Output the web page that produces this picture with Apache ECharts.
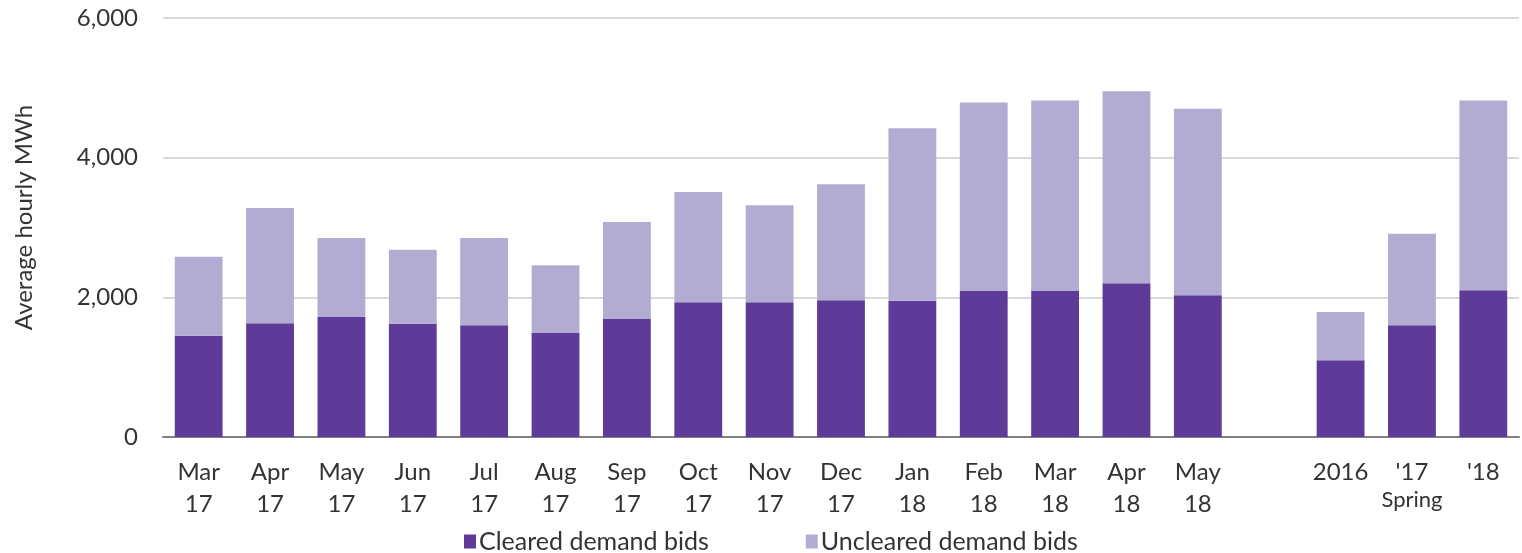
<!DOCTYPE html>
<html>
<head>
<meta charset="utf-8">
<script src="https://cdn.jsdelivr.net/npm/echarts@6/dist/echarts.min.js"></script>
<style>html,body{margin:0;padding:0;background:#fff;}#c{width:1522px;height:553px;}</style>
</head>
<body>
<div id="c"></div>
<script>
var categories = ['Mar\n17','Apr\n17','May\n17','Jun\n17','Jul\n17','Aug\n17','Sep\n17','Oct\n17','Nov\n17','Dec\n17','Jan\n18','Feb\n18','Mar\n18','Apr\n18','May\n18','','2016',"'17",'\'18'];
var cleared =   [1450,1630,1720,1620,1600,1490,1690,1930,1930,1960,1950,2090,2090,2200,2030,null,1100,1600,2100];
var totals =    [2580,3280,2850,2680,2850,2460,3080,3510,3320,3620,4420,4790,4820,4950,4700,null,1790,2910,4820];
var uncleared = totals.map(function(t,i){ return t==null ? null : t - cleared[i]; });
var yTicks = [0,2000,4000,6000];

var chart = echarts.init(document.getElementById('c'));
var font = 'Lato, "Open Sans", sans-serif';
chart.setOption({
  animation:false,
  grid:{left:163,right:3,top:18,bottom:116},
  legend:{
    bottom:-6,left:459,icon:'rect',itemWidth:12,itemHeight:14,itemGap:97,
    textStyle:{fontFamily:font,fontSize:25,color:'#333',padding:[0,0,0,-2]},
    data:['Cleared demand bids','Uncleared demand bids']
  },
  xAxis:{
    type:'category',data:categories,
    axisLine:{lineStyle:{color:'#808080',width:2}},
    axisTick:{show:false},
    axisLabel:{
      interval:0,margin:19,fontFamily:font,fontSize:24,color:'#333',lineHeight:32,
      formatter:function(v){ return v==="'17" ? "{a|'17}\n{b|Spring}" : v; },
      rich:{a:{fontFamily:font,fontSize:24,color:'#333',lineHeight:32},b:{fontFamily:font,fontSize:22,color:'#333',lineHeight:24}}
    }
  },
  yAxis:{
    type:'value',min:0,max:6000,interval:2000,
    name:'Average hourly MWh',nameLocation:'middle',nameGap:127,
    nameTextStyle:{fontFamily:font,fontSize:24,color:'#333',padding:[0,0,0,20]},
    axisLine:{show:false},axisTick:{show:false},
    axisLabel:{margin:25,fontFamily:font,fontSize:24,color:'#333',
      formatter:function(v){ return yTicks.indexOf(v)>=0 ? v.toLocaleString('en-US') : ''; }},
    splitLine:{lineStyle:{color:'#d9d9d9',width:2}}
  },
  series:[
    {name:'Cleared demand bids',type:'bar',stack:'s',data:cleared,barWidth:'67%',itemStyle:{color:'#5e3b98'}},
    {name:'Uncleared demand bids',type:'bar',stack:'s',data:uncleared,barWidth:'67%',itemStyle:{color:'#b2acd3'}}
  ]
});
</script>
</body>
</html>
